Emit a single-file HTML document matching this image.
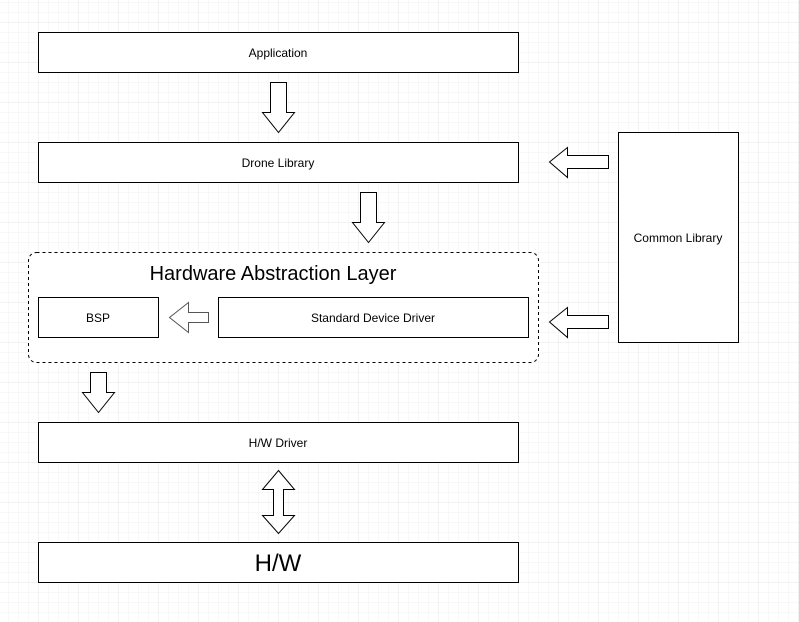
<!DOCTYPE html>
<html><head><style>
html,body{margin:0;padding:0;background:#fff}
svg{display:block}
text{font-family:"Liberation Sans",sans-serif;fill:#000}
</style></head><body>
<svg width="799" height="622" viewBox="0 0 799 622" xmlns="http://www.w3.org/2000/svg">
<defs>
<pattern id="mi" width="10" height="10" patternUnits="userSpaceOnUse" x="-2" y="2">
<path d="M0 0H10M0 0V10" stroke="#f2f2f2" stroke-width="1" fill="none"/>
</pattern>
<pattern id="ma" width="40" height="40" patternUnits="userSpaceOnUse" x="-2" y="-18">
<path d="M0 0H40M0 0V40" stroke="#e6e6e6" stroke-width="1" fill="none"/>
</pattern>
</defs>
<rect width="799" height="622" fill="url(#mi)"/>
<rect width="799" height="622" fill="url(#ma)"/>
<g stroke="#000" stroke-width="1" fill="#fff">
<rect x="38.5" y="32.5" width="480" height="40"/>
<rect x="38.5" y="142.5" width="480" height="40"/>
<rect x="28.5" y="252.5" width="510" height="110" rx="8" stroke-dasharray="3 3"/>
<rect x="38.5" y="297.5" width="120" height="40"/>
<rect x="218.5" y="297.5" width="310" height="40"/>
<rect x="618.5" y="132.5" width="120" height="210"/>
<rect x="38.5" y="422.5" width="480" height="40"/>
<rect x="38.5" y="542.5" width="480" height="40"/>
<path d="M270.5 82.5H286.5V112.5H294.5L278.5 132.5L262.5 112.5H270.5Z"/>
<path d="M360.5 192.5H376.5V222.5H384.5L368.5 242.5L352.5 222.5H360.5Z"/>
<path d="M90.5 372.5H106.5V392.5H114.5L98.5 412.5L82.5 392.5H90.5Z"/>
<path d="M278.5 470.5L294.5 489.5H283.5V515.5H294.5L278.5 533.5L262.5 515.5H273.5V489.5H262.5Z"/>
<path d="M608.5 155.5V168.5H567.5V177.5L549.5 162L567.5 147.5V155.5Z"/>
<path d="M608.5 315.5V328.5H567.5V337.5L549.5 322L567.5 307.5V315.5Z"/>
<path d="M208.5 312.5V322.5H188.5V332.5L169.5 317.5L188.5 302.5V312.5Z" stroke="#555"/>
</g>
<g font-size="12" text-anchor="middle">
<text x="278" y="57">Application</text>
<text x="278" y="167">Drone Library</text>
<text x="98" y="322">BSP</text>
<text x="373" y="322">Standard Device Driver</text>
<text x="678" y="242">Common Library</text>
<text x="278" y="447">H/W Driver</text>
</g>
<text x="273" y="280" font-size="20" text-anchor="middle">Hardware Abstraction Layer</text>
<text x="278" y="571" font-size="24" text-anchor="middle">H/W</text>
</svg>
</body></html>
